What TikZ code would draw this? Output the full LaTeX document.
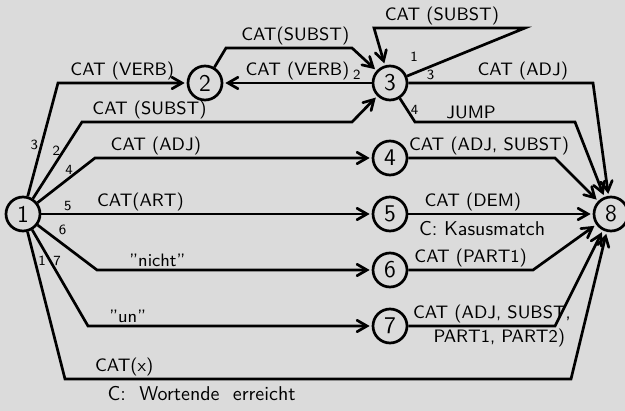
\documentclass[tikz,border=0pt]{standalone}
\usepackage{tikz}
\usetikzlibrary{arrows,positioning}

\begin{document}
\begin{tikzpicture}[x=0.5pt,y=-0.5pt,>=angle 60,shorten >=1pt,line width=1.35pt,
        node distance=28pt,on grid,
        main node/.style={circle,draw,minimum size=17pt,inner sep=0pt,font=\sffamily\large},
        lab/.style={font=\sffamily\small,inner sep=1pt},
        note/.style={font=\sffamily,inner sep=1pt},
        num/.style={font=\sffamily\scriptsize,inner sep=1pt}]
            \fill[black!14] (0,0) rectangle (625,411);
            \useasboundingbox (0,0) rectangle (625,411);
            \node[main node] (1) at (23,214) {1};
            \node[main node] (5) [right=183.5pt of 1] {5};
            \node[main node] (4) [above=of 5] {4};
            \node[main node] (6) [below=of 5] {6};
            \node[main node] (7) [below=of 6] {7};
            \node[main node] (3) [above=37.5pt of 4] {3};
            \node[main node] (2) [left=92.5pt of 3] {2};
            \node[main node] (8) [right=110.5pt of 5] {8};
            % arcs leaving 1
            \draw[->] (1) -- node[num,pos=.45,left] {3} (58,83)
                -- node[lab,above] {CAT (VERB)} (2);
            \draw[->] (1) -- node[num,pos=.62,left] {2} (82,122)
                -- node[lab,above,pos=.25] {CAT (SUBST)} (352,122) -- (3);
            \draw[->] (1) -- node[num,pos=.55,above] {4} (95,158)
                -- node[lab,above,pos=.22] {CAT (ADJ)} (4);
            \draw[->] (1) -- node[num,pos=.08,above] {5}
                node[lab,above,pos=.3] {CAT(ART)} (5);
            \draw[->] (1) -- node[num,pos=.3,above right] {6} (97,270)
                -- node[lab,above,pos=.22] {"nicht"} (6);
            \draw[->] (1) -- node[num,pos=.32,right] {7} (88,326)
                -- node[lab,above,pos=.14] {"un"} (7);
            \draw[->] (1) -- node[num,pos=.2,right] {1} (65,379)
                -- node[lab,above,pos=.117] {CAT(x)}
                node[note,below,pos=.27,yshift=-2pt] {C:\ \ Wortende\ \ erreicht} (571,379) -- (8);
            % arcs between 2 and 3
            \draw[->] (2) -- (226,48) -- node[lab,above,pos=.55] {CAT(SUBST)} (352,48) -- (3);
            \draw[->] (3) -- node[num,pos=.1,above] {2} node[lab,above,pos=.5] {CAT (VERB)} (2);
            \draw[->] (3) -- node[num,pos=.06,above=4pt] {1} (525,28)
                -- node[lab,above,pos=.55] {CAT (SUBST)} (374,28) -- (3);
            % arcs into 8
            \draw[->] (3) -- node[num,pos=.12,above] {3}
                node[lab,above,pos=.62] {CAT (ADJ)} (593,83) -- (8);
            \draw[->] (3) -- node[num,pos=.5,right] {4} (415,122)
                -- node[lab,above,pos=.35] {JUMP} (575,122) -- (8);
            \draw[->] (4) -- node[lab,above,pos=.55] {CAT (ADJ, SUBST)} (555,158) -- (8);
            \draw[->] (5) -- node[lab,above,pos=.35] {CAT (DEM)}
                node[note,below,pos=.4,yshift=-2pt] {C: Kasusmatch} (8);
            \draw[->] (6) -- node[lab,above,pos=.5] {CAT (PART1)} (533,270) -- (8);
            \draw[->] (7) -- node[lab,above,pos=.57] {CAT (ADJ, SUBST,}
                node[lab,below,pos=.62] {PART1, PART2)} (555,326) -- (8);
        \end{tikzpicture}
\end{document}
